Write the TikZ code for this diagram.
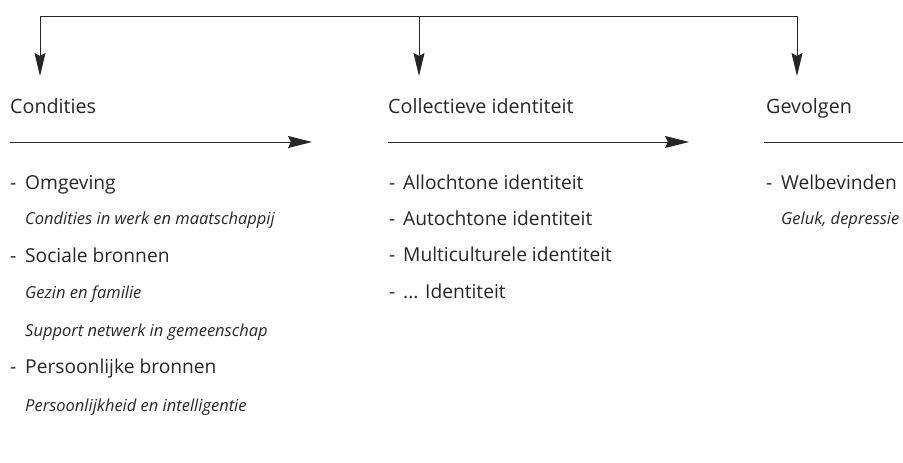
\documentclass[tikz,border=0pt]{standalone}
\usepackage{fontspec}
\setmainfont{Open Sans}
\usetikzlibrary{arrows.meta}
\begin{document}
\begin{tikzpicture}[x=1pt,y=-1pt,
  line/.style={line width=0.9pt, black!85},
  varrow/.style={line, -{Stealth[length=23pt,width=11pt,inset=3pt]}},
  harrow/.style={line, -{Stealth[length=24pt,width=12pt,inset=3pt]}},
  heading/.style={anchor=base west, inner sep=0pt, font=\fontsize{19.7}{23}\selectfont, text=black!85},
  item/.style={anchor=base west, inner sep=0pt, font=\fontsize{19.2}{22}\selectfont, text=black!85},
  sub/.style={anchor=base west, inner sep=0pt, font=\fontsize{16.5}{19}\selectfont\itshape, text=black!85},
  dashmark/.style={anchor=base west, inner sep=0pt, font=\fontsize{19.2}{22}\selectfont, text=black!85}]
\useasboundingbox (0,0) rectangle (903,463);
% top frame
\coordinate (t1) at (40,16);
\coordinate (t2) at (419,16);
\coordinate (t3) at (797,16);
\coordinate (e1) at (40,76);
\coordinate (e2) at (419,76);
\coordinate (e3) at (797,76);
\draw[line] (t1) -- (t3);
\draw[varrow] (t1) -- (e1);
\draw[varrow] (t2) -- (e2);
\draw[varrow] (t3) -- (e3);
% headings
\node[heading] (h1) at (10,113) {Condities};
\node[heading] (h2) at (388,113) {Collectieve identiteit};
\node[heading] (h3) at (766,113) {Gevolgen};
% horizontal lines
\coordinate (l1s) at (10,142);
\coordinate (l1e) at (312,142);
\coordinate (l2s) at (388,142);
\coordinate (l2e) at (689,142);
\coordinate (l3s) at (764,142);
\coordinate (l3e) at (903,142);
\draw[harrow] (l1s) -- (l1e);
\draw[harrow] (l2s) -- (l2e);
\draw[line] (l3s) -- (l3e);
% column 1
\node[dashmark] (d11) at (10,189) {-};
\node[item] (i11) at (25,189) {Omgeving};
\node[sub] (s11) at (25,224) {Condities in werk en maatschappij};
\node[dashmark] (d12) at (10,262) {-};
\node[item] (i12) at (25,262) {Sociale bronnen};
\node[sub] (s12) at (25,298) {Gezin en familie};
\node[sub] (s13) at (25,336) {Support netwerk in gemeenschap};
\node[dashmark] (d13) at (10,373) {-};
\node[item] (i13) at (25,373) {Persoonlijke bronnen};
\node[sub] (s14) at (25,411) {Persoonlijkheid en intelligentie};
% column 2
\node[dashmark] (d21) at (389,189) {-};
\node[item] (i21) at (403,189) {Allochtone identiteit};
\node[dashmark] (d22) at (389,225) {-};
\node[item] (i22) at (403,225) {Autochtone identiteit};
\node[dashmark] (d23) at (389,261) {-};
\node[item] (i23) at (403,261) {Multiculturele identiteit};
\node[dashmark] (d24) at (389,298) {-};
\node[item] (i24) at (403,298) {... Identiteit};
% column 3
\node[dashmark] (d31) at (766,189) {-};
\node[item] (i31) at (781,189) {Welbevinden};
\node[sub] (s31) at (781,224) {Geluk, depressie};
\end{tikzpicture}
\end{document}
